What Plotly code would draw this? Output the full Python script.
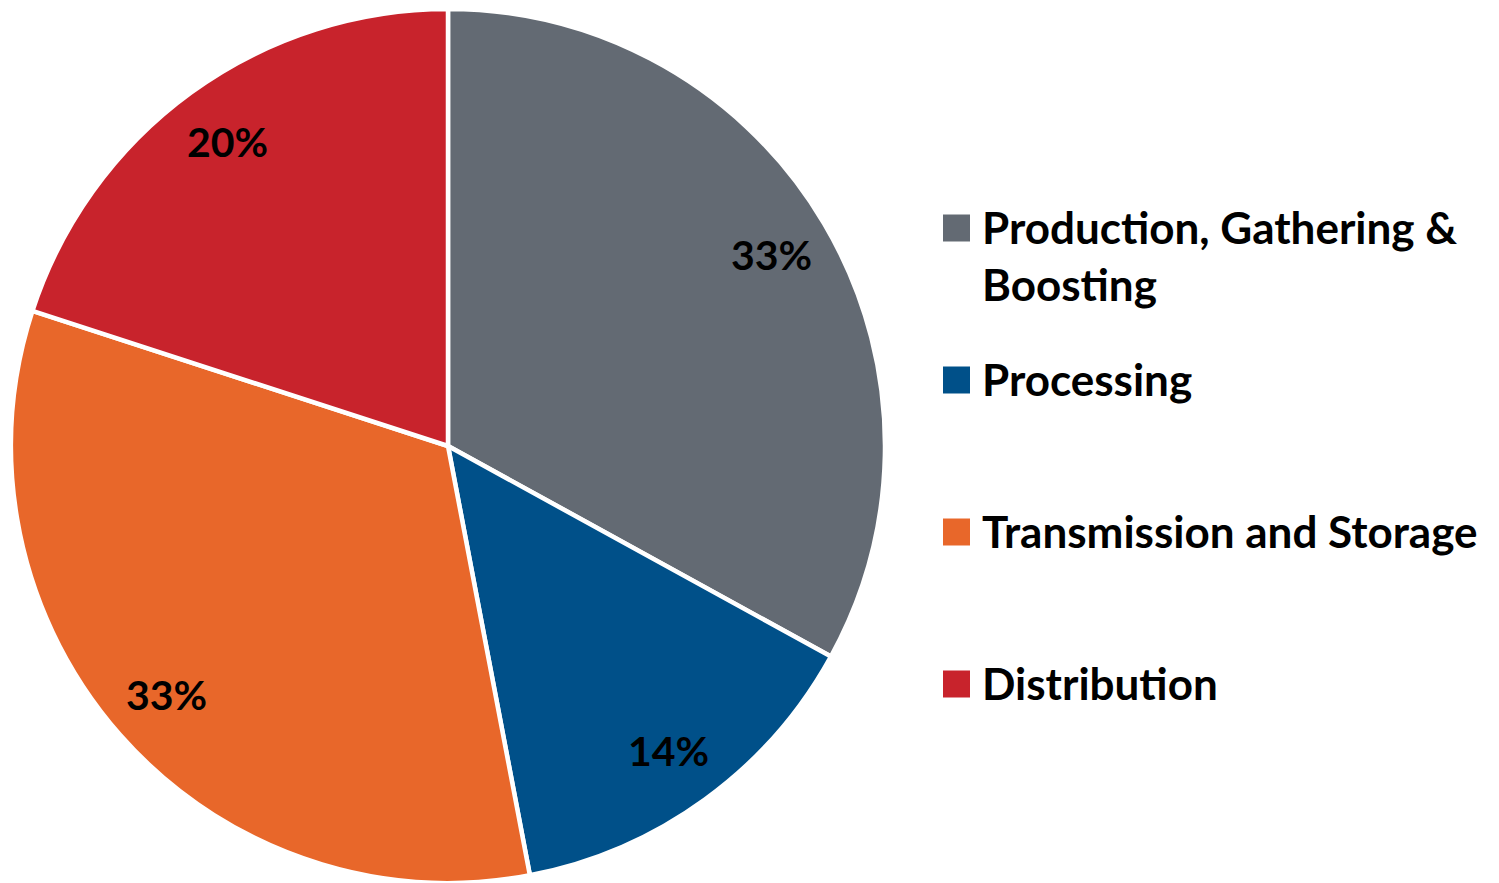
import numpy as np
import plotly.graph_objects as go

# Share of emissions by industry segment
segments = ["Production, Gathering &<br>Boosting", "Processing",
            "Transmission and Storage", "Distribution"]
shares = [33, 14, 33, 20]
colors = ["#636A73", "#005089", "#E8672A", "#C8232C"]

W, H = 1499, 883
MT = 9                      # top margin in px
PLOT_H = H - MT
CX, CY, R = 448, MT + 437, 437   # pie centre / radius in page px
FONT = "Lato"
LABEL_SIZE = 41
LEG_SIZE = 44

fig = go.Figure(go.Pie(
    labels=[s.replace("<br>", " ") for s in segments],
    values=shares,
    sort=False,
    direction="clockwise",
    rotation=0,
    marker=dict(colors=colors, line=dict(color="white", width=4.5)),
    textinfo="none",
    hoverinfo="label+percent",
    domain=dict(x=[0, 2 * CX / W], y=[0, 1]),
    showlegend=False,
))


def to_paper(px, py):
    return px / W, 1 - (py - MT) / PLOT_H


# Percentage labels placed along each slice's mid-angle
vals = np.array(shares, dtype=float)
cum = np.cumsum(vals) - vals / 2
theta = cum / vals.sum() * 2 * np.pi
for v, t in zip(shares, theta):
    px = CX + 0.86 * R * np.sin(t)
    py = CY - 0.86 * R * np.cos(t)
    x, y = to_paper(px, py)
    fig.add_annotation(x=x, y=y, xref="paper", yref="paper",
                       text=f"<b>{v}%</b>", showarrow=False,
                       font=dict(family=FONT, size=LABEL_SIZE, color="black"),
                       xanchor="center", yanchor="middle")

# Legend: coloured square + label, evenly spaced
LEG_X0, SQ = 943, 27
LEG_Y0, LEG_DY = 228, 152
for i, (name, c) in enumerate(zip(segments, colors)):
    yc = LEG_Y0 + i * LEG_DY
    x0, y0 = to_paper(LEG_X0, yc - SQ / 2)
    x1, y1 = to_paper(LEG_X0 + SQ, yc + SQ / 2)
    fig.add_shape(type="rect", xref="paper", yref="paper",
                  x0=x0, x1=x1, y0=y1, y1=y0,
                  fillcolor=c, line=dict(width=0))
    tx, ty = to_paper(980, yc - 0.65 * LEG_SIZE)
    fig.add_annotation(x=tx, y=ty, xref="paper", yref="paper",
                       text=f"<b>{name}</b>", showarrow=False, align="left",
                       font=dict(family=FONT, size=LEG_SIZE, color="black"),
                       xanchor="left", yanchor="top")

fig.update_layout(
    width=W, height=H,
    margin=dict(l=0, r=0, t=MT, b=0),
    paper_bgcolor="white", plot_bgcolor="white",
)

fig.write_html("out.html")
